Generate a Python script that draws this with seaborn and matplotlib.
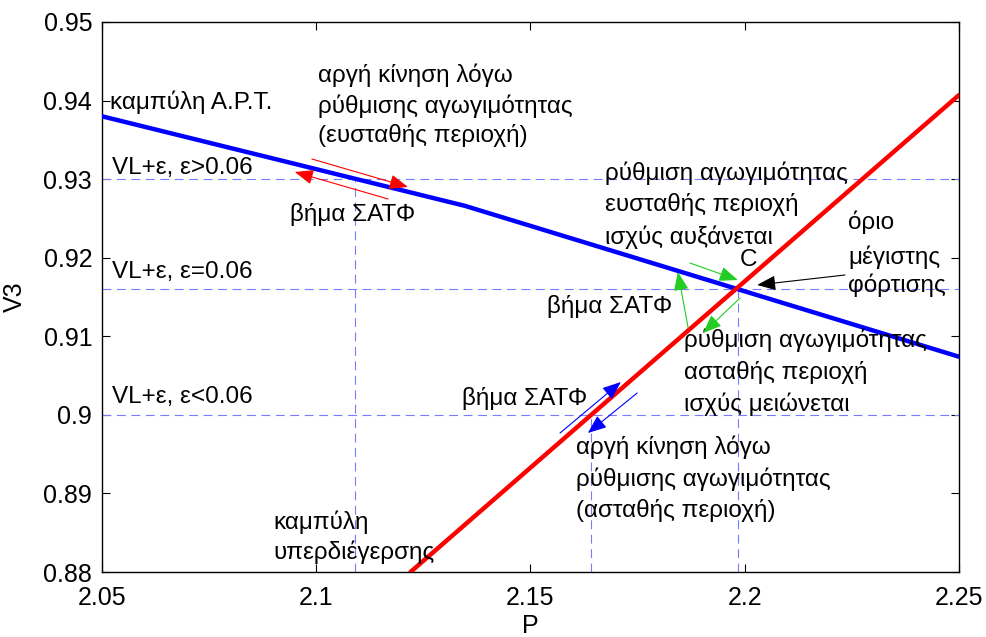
import matplotlib
matplotlib.use("Agg")
import matplotlib.pyplot as plt
import seaborn as sns
import pandas as pd
from matplotlib.ticker import FormatStrFormatter

# P-V curves
p_apt = [2.05, 2.1347, 2.25]          # load (A.P.T.) curve
v_apt = [0.9380, 0.9266, 0.9074]
p_over = [2.122, 2.25]                 # overexcitation curve
v_over = [0.880, 0.9407]

# voltage levels VL+eps
levels = [0.930, 0.916, 0.900]
level_labels = ["VL+ε, ε>0.06", "VL+ε, ε=0.06", "VL+ε, ε<0.06"]

# vertical guide lines (P where each level meets a curve)
p_guides = [2.1090, 2.1984, 2.1642]
v_guides = [0.930, 0.916, 0.900]

x_ticks = [2.05, 2.10, 2.15, 2.20, 2.25]
y_ticks = [0.88, 0.89, 0.90, 0.91, 0.92, 0.93, 0.94, 0.95]

sns.set_style("ticks")
plt.rcParams["font.family"] = ["Liberation Sans", "DejaVu Sans"]
plt.rcParams["xtick.direction"] = "in"
plt.rcParams["ytick.direction"] = "in"
plt.rcParams["text.color"] = "black"
plt.rcParams["axes.labelcolor"] = "black"
plt.rcParams["xtick.color"] = "black"
plt.rcParams["ytick.color"] = "black"

fig = plt.figure(figsize=(9.87, 6.37), dpi=100)
ax = fig.add_axes([0.1033, 0.1020, 0.8683, 0.8635])

FS = 17.5
guide_kw = dict(color="#7a7aff", lw=0.8, linestyle=(0, (8, 5)), zorder=1)

for lv in levels:
    ax.axhline(lv, **guide_kw)
for pg, vg in zip(p_guides, v_guides):
    ax.plot([pg, pg], [0.88, vg], **guide_kw)

df_apt = pd.DataFrame({"P": p_apt, "V3": v_apt})
df_over = pd.DataFrame({"P": p_over, "V3": v_over})
sns.lineplot(data=df_apt, x="P", y="V3", color="#0000ff", lw=3.2,
             sort=False, estimator=None, ax=ax, zorder=3)
sns.lineplot(data=df_over, x="P", y="V3", color="#ff0000", lw=3.2,
             sort=False, estimator=None, ax=ax, zorder=3)

ax.set_xlim(2.05, 2.25)
ax.set_ylim(0.88, 0.95)
ax.set_xticks(x_ticks)
ax.set_yticks(y_ticks)
ax.xaxis.set_major_formatter(FormatStrFormatter("%g"))
ax.yaxis.set_major_formatter(FormatStrFormatter("%g"))
ax.tick_params(labelsize=18, length=6, width=0.8, top=True, right=True,
               pad=7, colors="black")
ax.tick_params(axis="x", pad=10)
for s in ax.spines.values():
    s.set_linewidth(1.0)
    s.set_color("black")
ax.set_xlabel("P", fontsize=18, labelpad=3)
ax.set_ylabel("V3", fontsize=18, labelpad=12)


def label(x, y, s, **kw):
    ax.text(x, y, s, fontsize=FS, ha="left", va="center", color="black",
            zorder=5, **kw)


label(2.0519, 0.93982, "καμπύλη Α.Ρ.Τ.")
for yy, s in zip([0.94325, 0.93931, 0.93549],
                 ["αργή κίνηση λόγω", "ρύθμισης αγωγιμότητας", "(ευσταθής περιοχή)"]):
    label(2.1004, yy, s)
for s, yy in zip(level_labels, [0.93142, 0.91818, 0.90227]):
    label(2.0523, yy, s)
label(2.0938, 0.92544, "βήμα ΣΑΤΦ")
label(2.1538, 0.91373, "βήμα ΣΑΤΦ")
label(2.1340, 0.90214, "βήμα ΣΑΤΦ")
for yy, s in zip([0.93078, 0.92671, 0.92264],
                 ["ρύθμιση αγωγιμότητας", "ευσταθής περιοχή", "ισχύς αυξάνεται"]):
    label(2.1674, yy, s)
label(2.1989, 0.91971, "C")
for yy, s in zip([0.92455, 0.92009, 0.91653], ["όριο", "μέγιστης", "φόρτισης"]):
    label(2.2241, yy, s)
for yy, s in zip([0.90953, 0.90545, 0.90138],
                 ["ρύθμιση αγωγιμότητας", "ασταθής περιοχή", "ισχύς μειώνεται"]):
    label(2.1858, yy, s)
for yy, s in zip([0.89591, 0.89184, 0.88789],
                 ["αργή κίνηση λόγω", "ρύθμισης αγωγιμότητας", "(ασταθής περιοχή)"]):
    label(2.1606, yy, s)
for yy, s in zip([0.88636, 0.88254], ["καμπύλη", "υπερδιέγερσης"]):
    label(2.0899, yy, s)


def arrow(tail, tip, color):
    ax.annotate("", xy=tip, xytext=tail, zorder=6,
                arrowprops=dict(arrowstyle="-|>,head_length=0.95,head_width=0.38",
                                color=color, lw=0.8, mutation_scale=12,
                                shrinkA=0, shrinkB=0))


# slow movement along the A.P.T. curve
arrow((2.0990, 0.93256), (2.1214, 0.92900), "#ff0000")
arrow((2.1168, 0.92747), (2.0950, 0.93091), "#ff0000")
# conductance control near the maximum loading point
arrow((2.1872, 0.91933), (2.1984, 0.91716), "#22cc22")
arrow((2.1868, 0.91105), (2.1844, 0.91818), "#22cc22")
arrow((2.1989, 0.91487), (2.1903, 0.91042), "#22cc22")
# movement along the overexcitation curve
arrow((2.1569, 0.89769), (2.1711, 0.90418), "#0000ff")
arrow((2.1749, 0.90278), (2.1634, 0.89769), "#0000ff")
# maximum loading limit
arrow((2.2234, 0.91780), (2.2029, 0.91653), "black")

fig.savefig("out.png", dpi=100, facecolor="white")
